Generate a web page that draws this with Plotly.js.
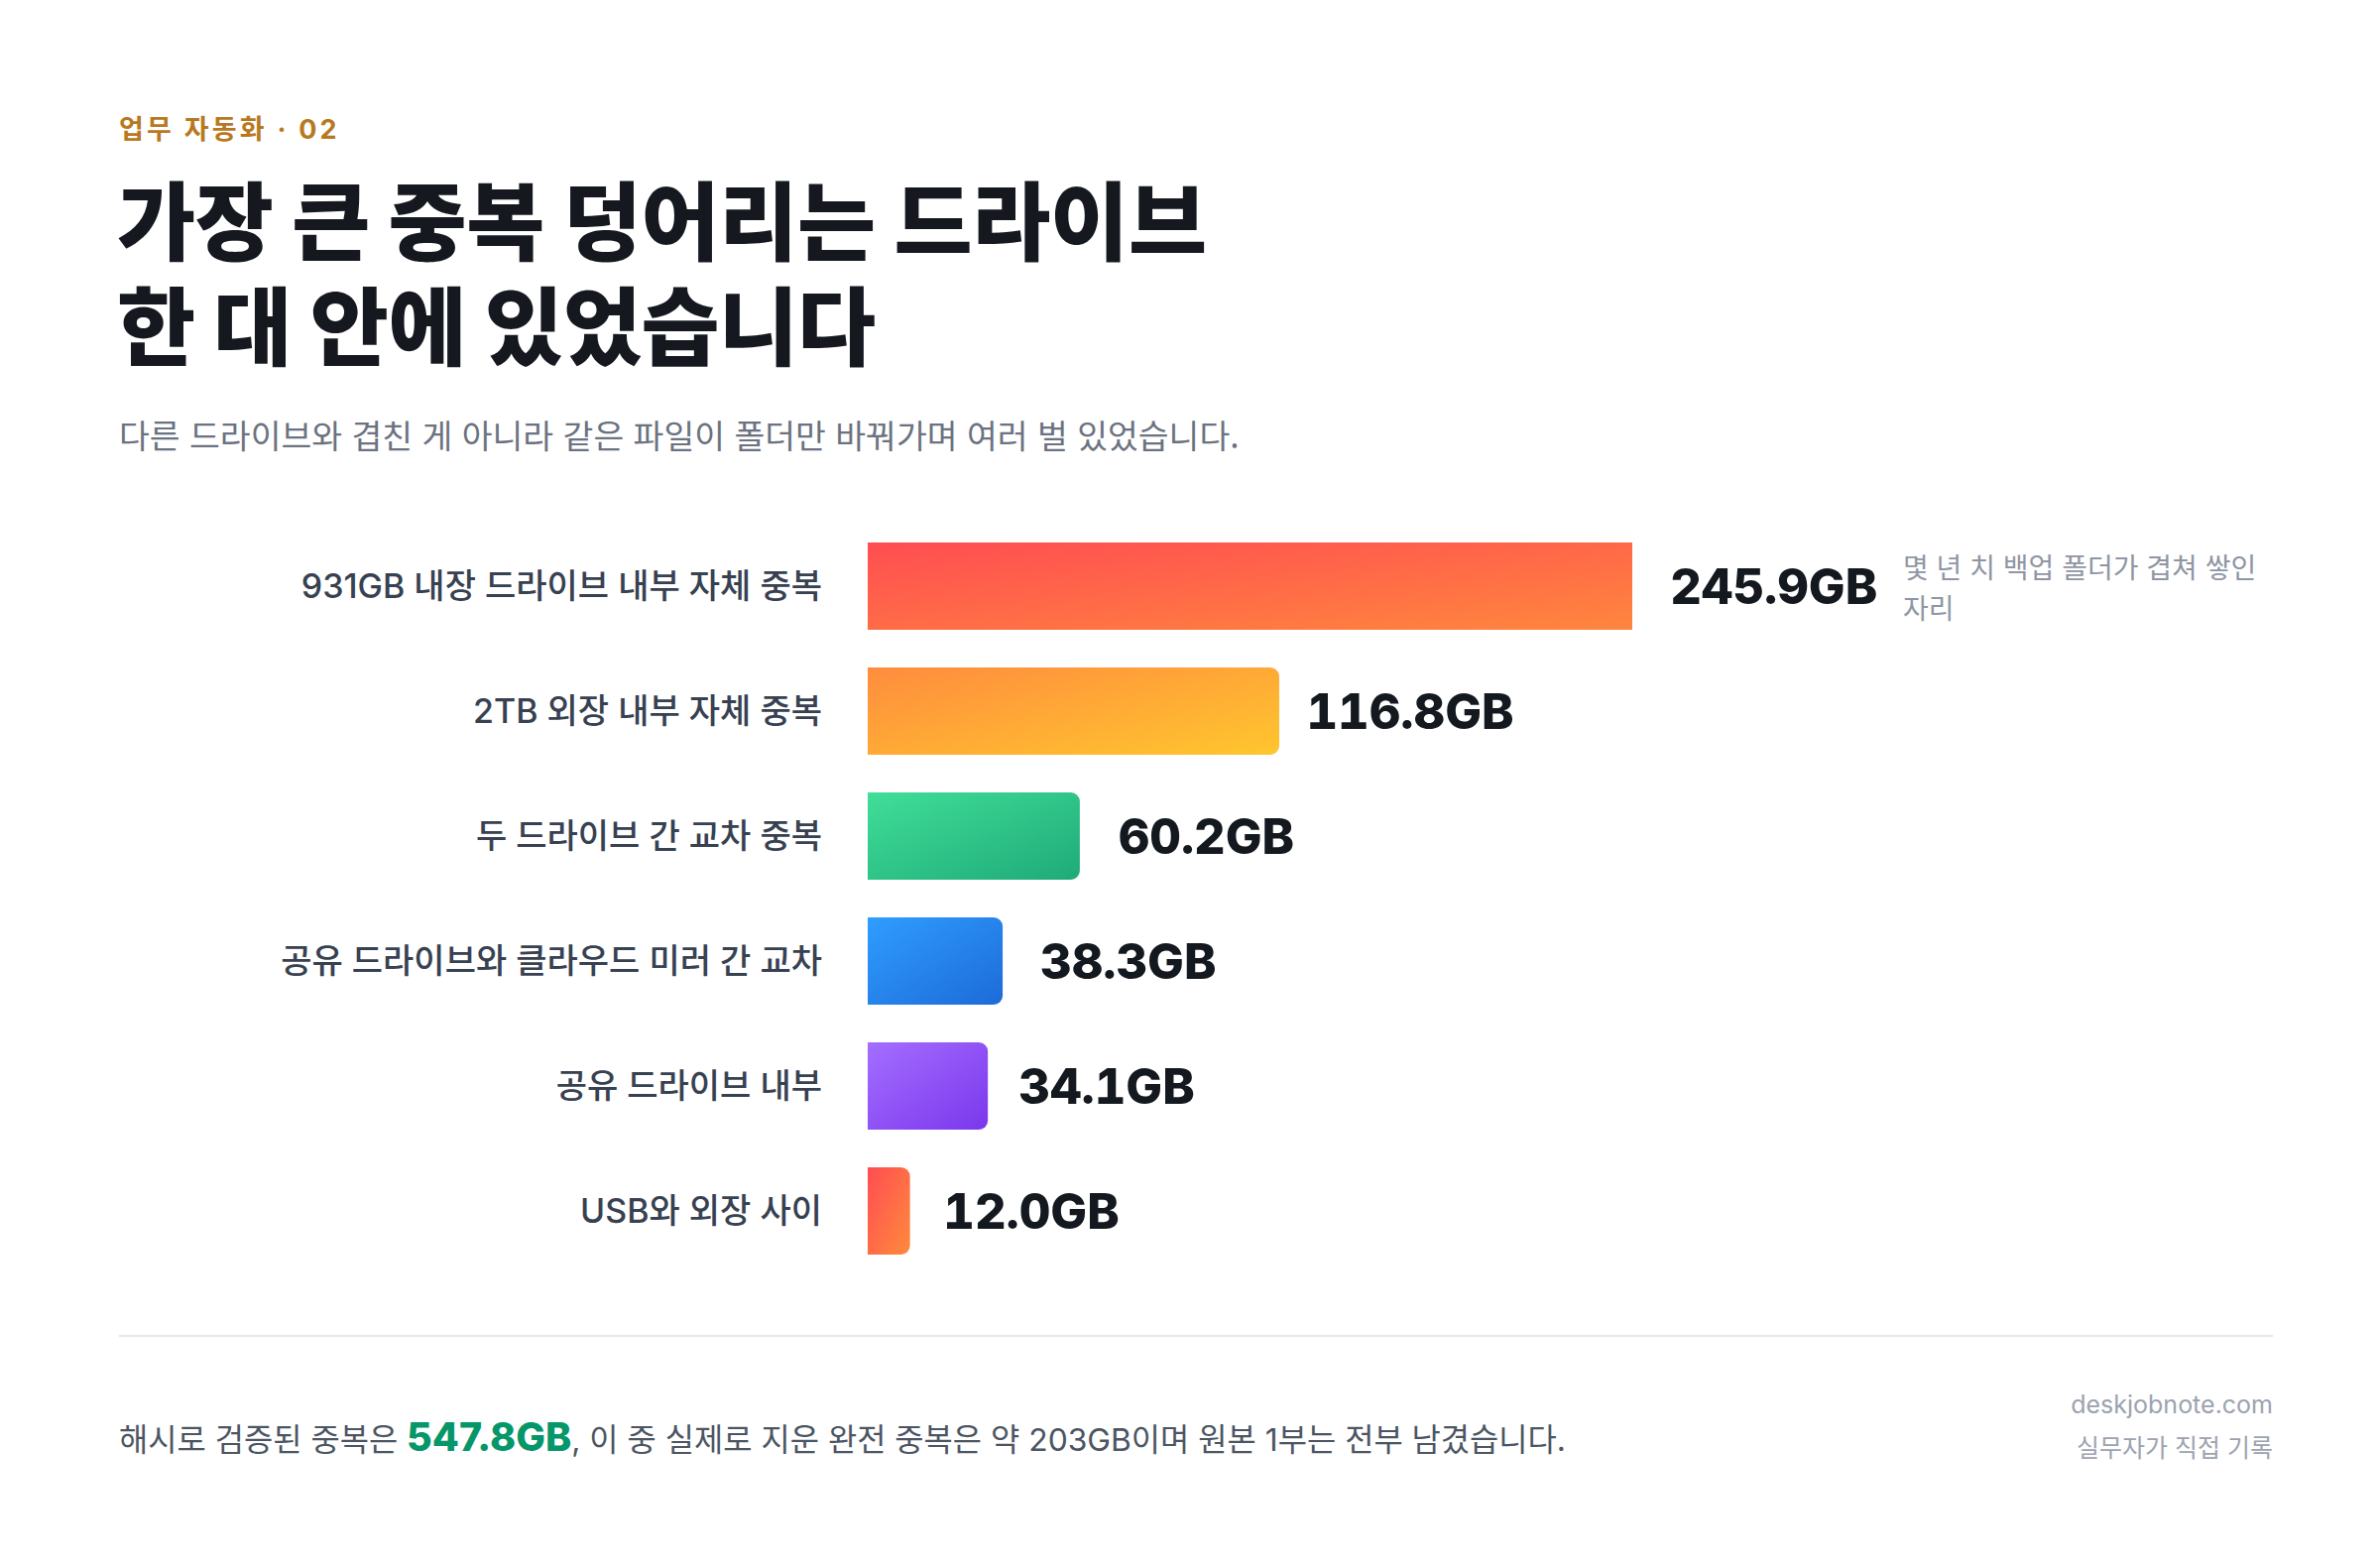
<!DOCTYPE html>
<html lang="ko">
<head>
<meta charset="utf-8">
<script src="https://cdn.plot.ly/plotly-3.0.1.min.js"></script>
<style>
  html, body { margin: 0; padding: 0; background: #ffffff; }
  #page { position: relative; width: 2400px; height: 1580px; overflow: hidden; background: #ffffff; }
  #chart { position: absolute; left: 0; top: 0; width: 2400px; height: 1580px; }
  #chart .annotation-text { font-feature-settings: 'tnum' 1; }
  .txt { position: absolute; white-space: nowrap; line-height: 1; }
  #eyebrow { left: 120px; top: 109px; font: 700 27px Inter, 'Noto Sans CJK KR', sans-serif; color: #b7791f; letter-spacing: 3.2px; }
  .title { left: 118px; font: 800 86px Inter, 'Noto Sans CJK KR', sans-serif; color: #15191f; letter-spacing: -0.3px; line-height: 106px; }
  #title1 { top: 172px; }
  #title2 { top: 278px; }
  #subtitle { left: 120px; top: 413px; font: 400 33.5px 'Noto Sans CJK KR', sans-serif; color: #6b7280; }
  #divider { position: absolute; left: 120px; top: 1346px; width: 2172px; height: 2px; background: #e5e7eb; }
  #footnote { left: 120px; top: 1428px; font: 400 31.8px Inter, 'Noto Sans CJK KR', sans-serif; color: #4b5563; line-height: 42px; }
  #footnote b { font-weight: 800; font-size: 39.5px; color: #059669; }
  #source { right: 108px; top: 1394px; text-align: right; font: 400 25px Inter, 'Noto Sans CJK KR', sans-serif; color: #9ca3af; line-height: 44px; }
</style>
</head>
<body>
<div id="page">
  <div id="chart"></div>
  <div class="txt" id="eyebrow">업무 자동화 · 02</div>
  <div class="txt title" id="title1">가장 큰 중복 덩어리는 드라이브</div>
  <div class="txt title" id="title2">한 대 안에 있었습니다</div>
  <div class="txt" id="subtitle">다른 드라이브와 겹친 게 아니라 같은 파일이 폴더만 바꿔가며 여러 벌 있었습니다.</div>
  <div id="divider"></div>
  <div class="txt" id="footnote">해시로 검증된 중복은 <b>547.8GB</b>, 이 중 실제로 지운 완전 중복은 약 203GB이며 원본 1부는 전부 남겼습니다.</div>
  <div class="txt" id="source">deskjobnote.com<br>실무자가 직접 기록</div>
</div>
<script>
// 중복 묶음별 용량 (GB)
const ROW_LABELS = [
  '931GB 내장 드라이브 내부 자체 중복',
  '2TB 외장 내부 자체 중복',
  '두 드라이브 간 교차 중복',
  '공유 드라이브와 클라우드 미러 간 교차',
  '공유 드라이브 내부',
  'USB와 외장 사이',
];
const DUP_GB = [245.9, 116.8, 60.2, 38.3, 34.1, 12.0];
const NOTE_LINES = ['몇 년 치 백업 폴더가 겹쳐 쌓인', '자리'];

// 막대 그라데이션 시작/끝 색
const GRAD_FROM = ['#ff4d52', '#ff8c3e', '#40de98', '#2f9dff', '#a46eff', '#ff4d52'];
const GRAD_TO   = ['#ff8a3c', '#ffc62e', '#1faa79', '#1d6bd8', '#7b37ec', '#ff8a3c'];

// 가장 큰 막대는 트랙 끝에서 잘림
const X_MAX = 217;

const LATIN_KR = 'Inter, "Noto Sans CJK KR", sans-serif';

function drawBars() {
  const trace = {
    type: 'bar', orientation: 'h',
    x: DUP_GB, y: ROW_LABELS,
    marker: { color: GRAD_FROM, cornerradius: 9, line: { width: 0 } },
    hoverinfo: 'skip',
  };

  const valueNotes = DUP_GB.map((v, i) => ({
    x: Math.min(v, X_MAX), y: ROW_LABELS[i], xref: 'x', yref: 'y',
    xanchor: 'left', yanchor: 'middle', xshift: 34,
    text: v.toFixed(1) + 'GB', showarrow: false,
    font: { family: LATIN_KR, size: 49, weight: 800, color: '#14181f' },
  }));

  // 첫 막대 옆 설명 두 줄
  const sideNotes = NOTE_LINES.map((t, i) => ({
    x: X_MAX, y: ROW_LABELS[0], xref: 'x', yref: 'y',
    xanchor: 'left', yanchor: 'middle', xshift: 271, yshift: 20 - i * 41, align: 'left',
    text: t, showarrow: false,
    font: { family: '"Noto Sans CJK KR", sans-serif', size: 28, color: '#8f96a3' },
  }));

  const layout = {
    width: 2400, height: 1580,
    margin: { l: 875, r: 754, t: 528, b: 296, pad: 0 },
    paper_bgcolor: 'rgba(0,0,0,0)', plot_bgcolor: 'rgba(0,0,0,0)',
    showlegend: false,
    bargap: 0.302,
    xaxis: { range: [0, X_MAX], visible: false, fixedrange: true },
    yaxis: {
      type: 'category', categoryarray: ROW_LABELS, autorange: 'reversed',
      showgrid: false, zeroline: false, showline: false, ticks: '',
      ticklabelstandoff: 45,
      tickfont: { family: LATIN_KR, size: 34, weight: 500, color: '#374151' },
      fixedrange: true,
    },
    annotations: [...valueNotes, ...sideNotes],
  };

  return Plotly.newPlot('chart', [trace], layout, { staticPlot: true, displayModeBar: false });
}

// plotly 막대에는 그라데이션 채우기가 없어서 svg 정의를 붙임
function paintGradients(gd) {
  const NS = 'http://www.w3.org/2000/svg';
  const svg = gd.querySelector('svg.main-svg');
  let defs = svg.querySelector('defs');
  if (!defs) { defs = document.createElementNS(NS, 'defs'); svg.prepend(defs); }
  GRAD_FROM.forEach((c, i) => {
    const g = document.createElementNS(NS, 'linearGradient');
    g.setAttribute('id', 'barGrad' + i);
    g.setAttribute('x1', '0'); g.setAttribute('y1', '0');
    g.setAttribute('x2', '1'); g.setAttribute('y2', '1');
    [[0, c], [1, GRAD_TO[i]]].forEach(([o, col]) => {
      const s = document.createElementNS(NS, 'stop');
      s.setAttribute('offset', o);
      s.setAttribute('stop-color', col);
      g.appendChild(s);
    });
    defs.appendChild(g);
  });
  gd.querySelectorAll('.barlayer .point path').forEach((p, i) => {
    p.style.fill = `url(#barGrad${i})`;
  });
}

drawBars().then(paintGradients);
</script>
</body>
</html>
